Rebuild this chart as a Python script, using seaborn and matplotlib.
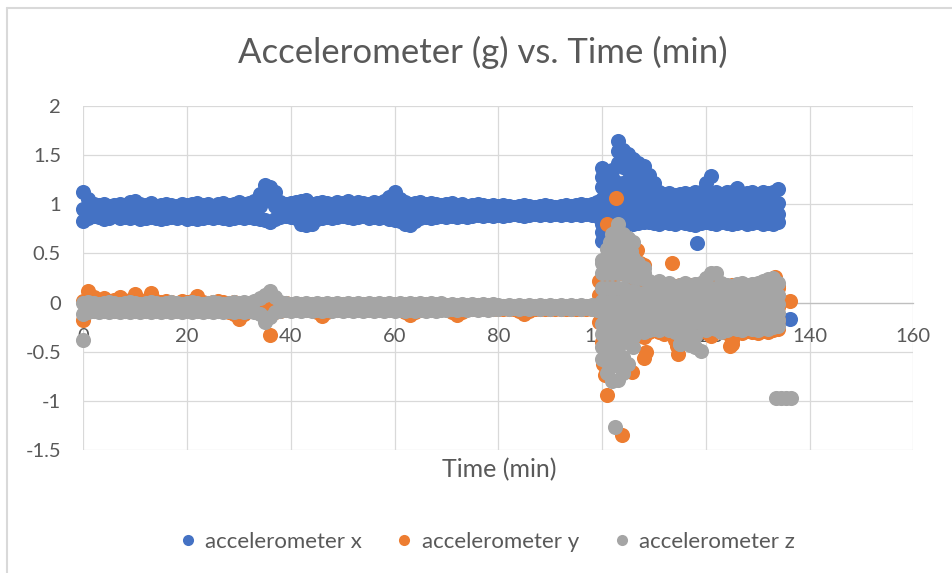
import numpy as np
import pandas as pd
import matplotlib
matplotlib.use("Agg")
import matplotlib.pyplot as plt
from matplotlib.lines import Line2D
import seaborn as sns

# ---------------- data ----------------
title = "Accelerometer (g) vs. Time (min)"
x_label = "Time (min)"
series_names = ["accelerometer x", "accelerometer y", "accelerometer z"]
x_ticks = [0, 20, 40, 60, 80, 100, 120, 140, 160]
y_ticks = [-1.5, -1, -0.5, 0, 0.5, 1, 1.5, 2]

# sample times (minutes)
t_pre = list(range(0, 100))      # calm part
t_post = list(range(100, 135))   # active part

# ---- accelerometer x ----
ax_pre_hi = [1.12, 1.05, 1.00, 0.99, 1.00, 0.98, 0.99, 1.00, 0.99, 1.02,
             1.03, 1.00, 0.99, 1.01, 0.98, 0.99, 1.00, 0.99, 0.98, 1.00,
             0.99, 1.00, 1.01, 0.99, 1.00, 0.98, 1.00, 1.01, 0.99, 1.00,
             1.02, 1.00, 1.01, 1.03, 1.10, 1.20, 1.18, 1.12, 1.02, 1.00,
             1.01, 1.02, 1.03, 1.04, 1.00, 1.01, 1.02, 1.01, 1.00, 1.02,
             1.01, 1.03, 1.00, 1.02, 1.01, 1.00, 1.02, 1.01, 1.03, 1.07,
             1.13, 1.05, 1.02, 1.00, 1.01, 1.02, 1.00, 1.01, 1.00, 0.99,
             1.00, 1.01, 0.99, 1.00, 0.98, 0.99, 1.00, 0.99, 0.98, 0.99,
             0.98, 0.99, 0.98, 0.97, 0.98, 0.99, 0.98, 0.97, 0.98, 0.99,
             0.98, 0.97, 0.98, 0.99, 0.98, 0.99, 1.00, 0.99, 1.00, 1.02]
ax_pre_mid = [0.95, 0.94, 0.93, 0.94, 0.92, 0.93, 0.94, 0.93, 0.92, 0.94,
              0.95, 0.93, 0.92, 0.94, 0.93, 0.92, 0.93, 0.94, 0.92, 0.93,
              0.92, 0.93, 0.94, 0.92, 0.93, 0.92, 0.94, 0.93, 0.92, 0.93,
              0.94, 0.93, 0.94, 0.95, 0.98, 1.05, 1.04, 0.98, 0.94, 0.93,
              0.94, 0.93, 0.92, 0.93, 0.92, 0.93, 0.94, 0.93, 0.92, 0.94,
              0.93, 0.94, 0.93, 0.92, 0.94, 0.93, 0.94, 0.93, 0.94, 0.96,
              0.98, 0.95, 0.92, 0.91, 0.93, 0.94, 0.93, 0.94, 0.93, 0.92,
              0.93, 0.94, 0.93, 0.94, 0.93, 0.92, 0.93, 0.94, 0.93, 0.94,
              0.93, 0.94, 0.93, 0.93, 0.94, 0.93, 0.94, 0.93, 0.94, 0.93,
              0.94, 0.93, 0.94, 0.93, 0.94, 0.93, 0.94, 0.93, 0.94, 0.95]
ax_pre_lo = [0.83, 0.86, 0.88, 0.87, 0.85, 0.86, 0.88, 0.86, 0.87, 0.86,
             0.87, 0.85, 0.86, 0.87, 0.86, 0.85, 0.86, 0.87, 0.86, 0.87,
             0.85, 0.86, 0.85, 0.86, 0.87, 0.86, 0.87, 0.86, 0.85, 0.86,
             0.87, 0.86, 0.87, 0.86, 0.85, 0.84, 0.82, 0.85, 0.87, 0.88,
             0.87, 0.86, 0.80, 0.79, 0.80, 0.85, 0.86, 0.87, 0.86, 0.87,
             0.88, 0.87, 0.86, 0.87, 0.88, 0.86, 0.87, 0.86, 0.87, 0.85,
             0.84, 0.83, 0.80, 0.79, 0.83, 0.86, 0.87, 0.86, 0.87, 0.88,
             0.87, 0.88, 0.87, 0.88, 0.87, 0.88, 0.89, 0.88, 0.89, 0.88,
             0.89, 0.88, 0.89, 0.90, 0.89, 0.88, 0.89, 0.90, 0.89, 0.90,
             0.89, 0.90, 0.89, 0.90, 0.89, 0.90, 0.89, 0.90, 0.89, 0.88]
ax_post_1 = [1.37, 1.24, 1.35, 1.64, 1.55, 1.51, 1.46, 1.42, 1.39, 1.30,
             1.22, 1.12, 1.10, 1.11, 1.09, 1.10, 1.11, 1.10, 1.12, 1.13,
             1.22, 1.29, 1.12, 1.10, 1.12, 1.13, 1.17, 1.10, 1.11, 1.12,
             1.10, 1.12, 1.11, 1.13, 1.16]
ax_post_2 = [1.05, 1.05, 1.06, 1.10, 1.08, 1.06, 1.05, 1.04, 1.03, 1.02,
             1.02, 1.00, 1.01, 0.99, 1.00, 1.02, 1.00, 0.99, 1.01, 1.00,
             1.05, 1.10, 1.00, 1.01, 0.99, 1.00, 1.02, 1.00, 0.99, 1.01,
             1.00, 1.01, 1.00, 1.02, 1.01]
ax_post_3 = [0.95, 0.90, 0.95, 0.98, 0.96, 0.95, 0.92, 0.90, 0.91, 0.90,
             0.91, 0.90, 0.89, 0.91, 0.90, 0.92, 0.90, 0.89, 0.91, 0.90,
             0.92, 0.95, 0.90, 0.91, 0.89, 0.90, 0.91, 0.90, 0.89, 0.91,
             0.90, 0.91, 0.90, 0.92, 0.90]
ax_post_4 = [0.80, 0.80, 0.82, 0.84, 0.83, 0.82, 0.80, 0.81, 0.82, 0.82,
             0.81, 0.80, 0.82, 0.81, 0.80, 0.82, 0.81, 0.80, 0.79, 0.81,
             0.82, 0.81, 0.80, 0.82, 0.81, 0.80, 0.81, 0.82, 0.80, 0.81,
             0.82, 0.80, 0.81, 0.80, 0.82]
ax_extra_t = [100, 101, 102, 103, 104, 105, 106, 107, 108, 109, 110,
              100, 102, 103, 104, 105, 106, 107, 108,
              103, 104, 105, 106,
              100, 101, 102, 103, 104, 100, 101,
              118.3, 103.5, 136.3]
ax_extra_v = [1.18, 1.15, 1.18, 1.22, 1.22, 1.20, 1.18, 1.17, 1.16, 1.12, 1.10,
              1.28, 1.28, 1.42, 1.38, 1.35, 1.32, 1.30, 1.27,
              1.54, 1.47, 1.43, 1.40,
              0.72, 0.70, 0.72, 0.70, 0.74, 0.63, 0.65,
              0.61, 0.38, -0.17]

# ---- accelerometer y ----
ay_pre_hi = [0.02, 0.12, 0.06, 0.03, 0.05, 0.02, 0.03, 0.06, 0.02, 0.03,
             0.09, 0.03, 0.02, 0.10, 0.02, 0.01, 0.02, 0.01, 0.00, 0.02,
             0.01, 0.02, 0.07, 0.01, 0.00, 0.01, 0.02, 0.01, 0.00, 0.01,
             0.00, 0.00, 0.00, 0.00, 0.00, 0.00, 0.00, 0.00, 0.00, 0.00,
             -0.01, -0.01, -0.01, -0.01, -0.01, -0.01, -0.01, -0.01, -0.01, -0.01,
             -0.01, -0.01, -0.01, -0.01, -0.01, -0.01, -0.01, -0.01, -0.01, -0.01,
             -0.01, -0.01, -0.01, -0.01, -0.01, -0.01, -0.01, -0.01, -0.02, -0.02,
             -0.02, -0.02, -0.02, -0.02, -0.02, -0.02, -0.02, -0.02, -0.02, -0.02,
             -0.03, -0.03, -0.03, -0.03, -0.03, -0.03, -0.03, -0.03, -0.03, -0.03,
             -0.03, -0.03, -0.03, -0.03, -0.03, -0.03, -0.03, -0.03, -0.03, -0.03]
ay_pre_lo = [-0.18, -0.09, -0.09, -0.09, -0.09, -0.09, -0.09, -0.09, -0.09, -0.09,
             -0.09, -0.09, -0.09, -0.09, -0.09, -0.09, -0.09, -0.09, -0.09, -0.09,
             -0.09, -0.09, -0.09, -0.09, -0.09, -0.09, -0.09, -0.09, -0.10, -0.12,
             -0.17, -0.12, -0.09, -0.09, -0.09, -0.10, -0.33, -0.10, -0.09, -0.08,
             -0.08, -0.08, -0.08, -0.08, -0.08, -0.10, -0.14, -0.10, -0.08, -0.08,
             -0.08, -0.08, -0.08, -0.08, -0.08, -0.08, -0.08, -0.08, -0.08, -0.08,
             -0.08, -0.08, -0.10, -0.13, -0.10, -0.08, -0.08, -0.08, -0.08, -0.07,
             -0.07, -0.10, -0.13, -0.10, -0.07, -0.07, -0.07, -0.07, -0.07, -0.07,
             -0.07, -0.07, -0.07, -0.07, -0.09, -0.12, -0.09, -0.07, -0.07, -0.07,
             -0.07, -0.07, -0.07, -0.07, -0.07, -0.07, -0.07, -0.07, -0.07, -0.08]
ay_post_1 = [0.20, 0.22, 0.25, 0.30, 0.30, 0.28, 0.25, 0.22, 0.20, 0.18,
             0.17, 0.18, 0.17, 0.18, 0.17, 0.18, 0.17, 0.18, 0.17, 0.18,
             0.20, 0.22, 0.20, 0.18, 0.17, 0.18, 0.17, 0.18, 0.17, 0.18,
             0.17, 0.18, 0.20, 0.20, 0.17]
ay_post_2 = [0.08, 0.08, 0.08, 0.08, 0.07, 0.07, 0.07, 0.07, 0.07, 0.07,
             0.07, 0.07, 0.07, 0.07, 0.07, 0.07, 0.07, 0.07, 0.07, 0.07,
             0.07, 0.07, 0.07, 0.07, 0.07, 0.07, 0.07, 0.07, 0.07, 0.07,
             0.07, 0.07, 0.07, 0.07, 0.07]
ay_post_3 = [-0.05, -0.05, -0.05, -0.05, -0.05, -0.05, -0.05, -0.05, -0.05, -0.05,
             -0.05, -0.05, -0.05, -0.05, -0.05, -0.05, -0.05, -0.05, -0.05, -0.05,
             -0.05, -0.05, -0.05, -0.05, -0.05, -0.05, -0.05, -0.05, -0.05, -0.05,
             -0.05, -0.05, -0.05, -0.05, -0.05]
ay_post_4 = [-0.20, -0.25, -0.25, -0.25, -0.22, -0.20, -0.18, -0.18, -0.18, -0.18,
             -0.18, -0.18, -0.18, -0.18, -0.18, -0.18, -0.18, -0.18, -0.18, -0.18,
             -0.18, -0.18, -0.18, -0.18, -0.18, -0.18, -0.18, -0.18, -0.18, -0.18,
             -0.18, -0.18, -0.18, -0.18, -0.18]
ay_post_5 = [-0.40, -0.45, -0.45, -0.40, -0.35, -0.32, -0.30, -0.33, -0.35, -0.30,
             -0.28, -0.30, -0.32, -0.29, -0.38, -0.31, -0.29, -0.30, -0.31, -0.29,
             -0.30, -0.34, -0.29, -0.30, -0.31, -0.38, -0.30, -0.31, -0.29, -0.30,
             -0.31, -0.29, -0.30, -0.28, -0.27]
ay_extra_t = [99.5, 99.5, 99.5, 99.5, 102.6, 101.0, 106.7, 106.0, 107.3, 108.0,
              113.5, 100.2, 100.6, 101.0, 103.9, 105.8, 108.0, 108.5, 114.5,
              114.7, 121.0, 124.7, 125.0, 133.4, 134.0, 136.3]
ay_extra_v = [0.22, 0.08, -0.08, -0.20, 1.06, 0.80, 0.53, 0.48, 0.40, 0.38,
              0.40, -0.62, -0.74, -0.94, -1.35, -0.71, -0.56, -0.50, -0.44,
              -0.52, -0.32, -0.44, -0.42, 0.26, 0.15, 0.02]

# ---- accelerometer z ----
az_pre_hi = [0.00, 0.01, 0.00, -0.01, 0.00, 0.01, 0.00, -0.01, 0.00, 0.01,
             0.00, -0.01, 0.00, 0.01, 0.00, -0.01, 0.00, 0.01, 0.00, -0.01,
             0.00, 0.01, 0.00, -0.01, 0.00, 0.01, 0.00, -0.01, 0.00, 0.01,
             0.00, 0.01, 0.00, 0.02, 0.05, 0.08, 0.12, 0.06, 0.01, 0.00,
             -0.01, 0.00, -0.01, 0.00, -0.01, 0.00, -0.01, 0.00, -0.01, 0.00,
             -0.01, 0.00, -0.01, 0.00, -0.01, 0.00, -0.01, 0.00, -0.01, 0.00,
             -0.01, 0.00, -0.01, 0.00, -0.01, 0.00, -0.01, 0.00, -0.01, 0.00,
             -0.02, -0.01, -0.02, -0.01, -0.02, -0.01, -0.02, -0.01, -0.02, -0.01,
             -0.02, -0.03, -0.02, -0.03, -0.02, -0.03, -0.02, -0.03, -0.02, -0.03,
             -0.02, -0.03, -0.02, -0.03, -0.02, -0.03, -0.02, -0.03, -0.02, -0.02]
az_pre_lo = [-0.12, -0.10, -0.09, -0.10, -0.09, -0.10, -0.09, -0.10, -0.09, -0.10,
             -0.09, -0.10, -0.09, -0.10, -0.09, -0.10, -0.09, -0.10, -0.09, -0.10,
             -0.09, -0.10, -0.09, -0.10, -0.09, -0.10, -0.09, -0.10, -0.09, -0.10,
             -0.09, -0.10, -0.09, -0.10, -0.12, -0.20, -0.15, -0.10, -0.09, -0.08,
             -0.09, -0.08, -0.09, -0.08, -0.09, -0.08, -0.09, -0.08, -0.09, -0.08,
             -0.09, -0.08, -0.09, -0.08, -0.09, -0.08, -0.09, -0.08, -0.09, -0.08,
             -0.09, -0.08, -0.09, -0.08, -0.09, -0.08, -0.09, -0.08, -0.09, -0.08,
             -0.08, -0.07, -0.08, -0.07, -0.08, -0.07, -0.08, -0.07, -0.08, -0.07,
             -0.07, -0.06, -0.07, -0.06, -0.07, -0.06, -0.07, -0.06, -0.07, -0.06,
             -0.07, -0.06, -0.07, -0.06, -0.07, -0.06, -0.07, -0.06, -0.07, -0.08]
az_post_1 = [0.30, 0.30, 0.30, 0.30, 0.30, 0.28, 0.26, 0.25, 0.24, 0.22,
             0.20, 0.22, 0.18, 0.20, 0.15, 0.18, 0.20, 0.17, 0.19, 0.20,
             0.25, 0.30, 0.30, 0.20, 0.18, 0.17, 0.19, 0.20, 0.18, 0.19,
             0.20, 0.22, 0.24, 0.25, 0.20]
az_post_2 = [0.15, 0.15, 0.15, 0.15, 0.15, 0.12, 0.12, 0.10, 0.10, 0.10,
             0.09, 0.10, 0.08, 0.10, 0.09, 0.08, 0.10, 0.09, 0.08, 0.10,
             0.12, 0.15, 0.12, 0.10, 0.09, 0.08, 0.10, 0.09, 0.08, 0.10,
             0.09, 0.10, 0.12, 0.10, 0.08]
az_post_3 = [0.02, 0.01, 0.02, 0.01, 0.02, 0.00, 0.01, -0.01, 0.00, 0.01,
             -0.01, 0.00, 0.01, -0.01, 0.00, 0.01, -0.01, 0.00, 0.01, -0.01,
             0.00, 0.01, -0.01, 0.00, 0.01, -0.01, 0.00, 0.01, -0.01, 0.00,
             0.01, -0.01, 0.00, 0.01, -0.01]
az_post_4 = [-0.10, -0.11, -0.10, -0.11, -0.10, -0.10, -0.11, -0.10, -0.11, -0.10,
             -0.11, -0.10, -0.11, -0.10, -0.11, -0.10, -0.11, -0.10, -0.11, -0.10,
             -0.11, -0.10, -0.11, -0.10, -0.11, -0.10, -0.11, -0.10, -0.11, -0.10,
             -0.11, -0.10, -0.11, -0.10, -0.11]
az_post_5 = [-0.22, -0.22, -0.22, -0.22, -0.22, -0.22, -0.21, -0.22, -0.21, -0.20,
             -0.21, -0.22, -0.20, -0.21, -0.22, -0.20, -0.21, -0.22, -0.20, -0.21,
             -0.22, -0.20, -0.21, -0.22, -0.20, -0.21, -0.22, -0.20, -0.21, -0.22,
             -0.20, -0.21, -0.22, -0.20, -0.18]
az_post_6 = [-0.32, -0.34, -0.34, -0.33, -0.32, -0.32, -0.32, -0.30, -0.30, -0.28,
             -0.27, -0.28, -0.26, -0.28, -0.30, -0.42, -0.30, -0.32, -0.34, -0.49,
             -0.28, -0.26, -0.27, -0.30, -0.28, -0.26, -0.27, -0.28, -0.26, -0.27,
             -0.28, -0.26, -0.27, -0.25, -0.24]
az_extra_t = [100, 100, 101, 101, 101, 102, 102, 102, 102, 103, 103, 103, 103,
              104, 104, 104, 104, 105, 105, 105, 106, 106, 106, 107, 107, 108, 108,
              101.5, 102.5, 103.5, 104.5, 105.5, 101.5, 102.5, 103.5, 104.5,
              100, 100, 101, 101, 101, 102, 102, 102, 103, 103, 103, 104, 104, 104,
              105, 105, 106, 106, 115.0, 116.0, 117.0, 118.0,
              0.0, 102.5, 133.5, 134.5, 135.5, 136.5]
az_extra_v = [0.43, 0.40, 0.55, 0.45, 0.40, 0.70, 0.55, 0.45, 0.40, 0.80, 0.65,
              0.50, 0.40, 0.70, 0.55, 0.45, 0.40, 0.66, 0.50, 0.38, 0.62, 0.45,
              0.35, 0.40, 0.32, 0.35, 0.30,
              0.62, 0.72, 0.60, 0.58, 0.52, 0.48, 0.50, 0.46, 0.50,
              -0.45, -0.57, -0.45, -0.60, -0.72, -0.50, -0.65, -0.80, -0.45, -0.60,
              -0.79, -0.40, -0.55, -0.72, -0.40, -0.62, -0.35, -0.45,
              -0.42, -0.40, -0.43, -0.45,
              -0.38, -1.27, -0.97, -0.97, -0.97, -0.97]

# ---------------- build long table ----------------
def collect(name, pre_levels, post_levels, extra_t, extra_v):
    ts, vs = [], []
    for lv in pre_levels:
        ts += t_pre
        vs += lv
    for lv in post_levels:
        ts += t_post
        vs += lv
    ts += extra_t
    vs += extra_v
    return pd.DataFrame({"time": ts, "value": vs, "series": name})

df = pd.concat([
    collect(series_names[0], [ax_pre_hi, ax_pre_mid, ax_pre_lo],
            [ax_post_1, ax_post_2, ax_post_3, ax_post_4], ax_extra_t, ax_extra_v),
    collect(series_names[1], [ay_pre_hi, ay_pre_lo],
            [ay_post_1, ay_post_2, ay_post_3, ay_post_4, ay_post_5],
            ay_extra_t, ay_extra_v),
    collect(series_names[2], [az_pre_hi, az_pre_lo],
            [az_post_1, az_post_2, az_post_3, az_post_4, az_post_5, az_post_6],
            az_extra_t, az_extra_v),
], ignore_index=True)

colors = ["#4472C4", "#ED7D31", "#A5A5A5"]
palette = dict(zip(series_names, colors))
text_color = "#595959"

# ---------------- plot ----------------
sns.set_theme(style="white")
plt.rcParams["font.family"] = ["Lato", "DejaVu Sans"]

W, H = 953, 573
fig = plt.figure(figsize=(W / 100, H / 100), dpi=100)
ax = fig.add_axes([83.3 / W, 1 - 450 / H, 830 / W, 344 / H])

for i, name in enumerate(series_names):
    sub = df[df["series"] == name]
    sns.scatterplot(data=sub, x="time", y="value", color=palette[name],
                    s=118, linewidth=0, alpha=1, ax=ax, legend=False,
                    zorder=3 + i, clip_on=False)

ax.set_xlim(0, 160)
ax.set_ylim(-1.5, 2)
ax.set_xticks(x_ticks)
ax.set_yticks(y_ticks)
ax.set_xticklabels([str(v) for v in x_ticks])
ax.set_yticklabels([("%g" % v) for v in y_ticks])
ax.grid(True, color="#d9d9d9", linewidth=0.9, zorder=0)
ax.set_axisbelow(True)
for side in ["top", "right", "left"]:
    ax.spines[side].set_visible(False)
ax.spines["bottom"].set_position(("data", 0))
ax.spines["bottom"].set_color("#bfbfbf")
ax.spines["bottom"].set_linewidth(0.9)
ax.spines["bottom"].set_zorder(1)
ax.tick_params(axis="both", length=0, labelsize=14.5, colors=text_color)
ax.tick_params(axis="x", pad=18)
ax.tick_params(axis="y", pad=16)
ax.set_xlabel("")
ax.set_ylabel("")

fig.text(483 / W, 1 - 52 / H, title, ha="center", va="center",
         fontsize=25, color=text_color)
fig.text(499 / W, 1 - 470 / H, x_label, ha="center", va="center",
         fontsize=18, color=text_color)

handles = [Line2D([0], [0], marker="o", linestyle="", markersize=8,
                  markerfacecolor=c, markeredgewidth=0) for c in colors]
fig.legend(handles, series_names, loc="center", bbox_to_anchor=(487 / W, 1 - 542 / H),
           ncol=3, frameon=False, fontsize=16, labelcolor=text_color,
           handletextpad=0.4, columnspacing=1.5, handlelength=0.8)

# chart-area border (top and left edges visible in the reference)
fig.add_artist(Line2D([7 / W, 1.0], [1 - 7.5 / H, 1 - 7.5 / H],
                      transform=fig.transFigure, color="#d9d9d9", linewidth=1.5))
fig.add_artist(Line2D([7 / W, 7 / W], [0.0, 1 - 7.5 / H],
                      transform=fig.transFigure, color="#d9d9d9", linewidth=1.5))

fig.savefig("out.png", dpi=100)
